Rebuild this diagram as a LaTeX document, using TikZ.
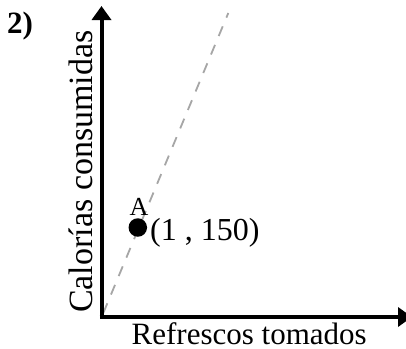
\documentclass[tikz,border=0pt]{standalone}
\usepackage{fontspec}
\setmainfont{Liberation Serif}
\usetikzlibrary{arrows.meta}
\begin{document}
\begin{tikzpicture}[x=1pt,y=-1pt,
  axis/.style={line width=4pt,-{Triangle[length=14pt,width=19pt]}},
  guide/.style={draw=gray!70,line width=1.8pt,dash pattern=on 10.5pt off 9.5pt},
  lbl/.style={inner sep=0pt}]
\useasboundingbox (0,0) rectangle (406,348);
\coordinate (O) at (101.5,317);
\coordinate (ytop) at (101.5,6);
\coordinate (xend) at (412,317);
\coordinate (d1) at (103.3,313);
\coordinate (d2) at (228.3,13);
\draw[guide] (d1) -- (d2);
\draw[axis] ([xshift=-2pt]O) -- (xend);
\draw[axis] ([yshift=2pt]O) -- (ytop);
\node[lbl,anchor=base west,font=\fontsize{31}{33}\selectfont\bfseries] (num) at (7,33.5) {2)};
\node[lbl,anchor=base west,rotate=90,font=\fontsize{34}{36}\selectfont] (ylab) at (92,313) {Calorías consumidas};
\node[lbl,anchor=base west,font=\fontsize{31}{33}\selectfont] (xlab) at (131.5,344.5) {Refrescos tomados};
\node[circle,fill=black,minimum size=18.5pt,inner sep=0pt] (A) at (137.8,227.5) {};
\node[lbl,anchor=base west,font=\fontsize{26}{28}\selectfont] (Alab) at (129.5,215) {A};
\node[lbl,anchor=base west,font=\fontsize{32}{34}\selectfont] (coord) at (150,240) {(1 , 150)};
\end{tikzpicture}
\end{document}
